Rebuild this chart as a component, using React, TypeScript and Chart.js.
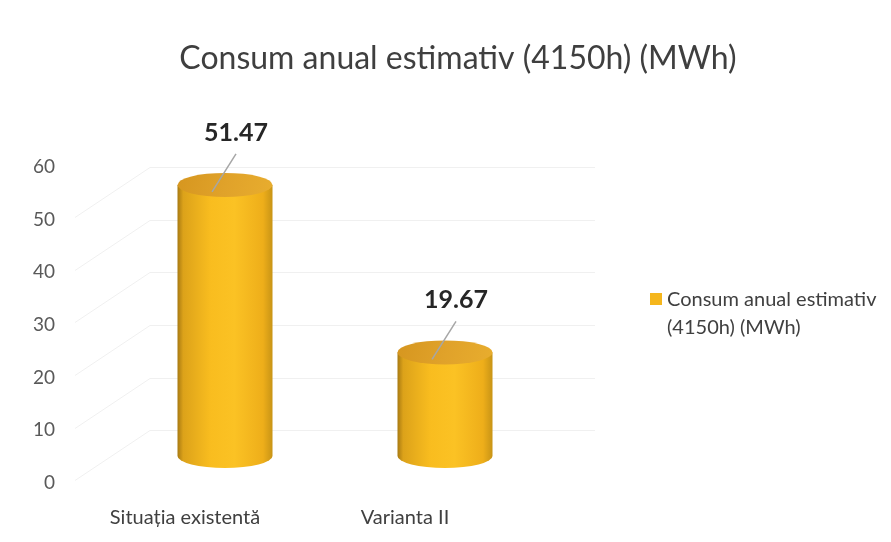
import React, { useEffect, useRef } from "react";
import { Chart, registerables } from "chart.js";
Chart.register(...registerables);

const chartTitle = "Consum anual estimativ (4150h) (MWh)";
const categories = ["Situația existentă", "Varianta II"];
const seriesName = "Consum anual estimativ (4150h) (MWh)";
const legendLines = ["Consum anual estimativ", "(4150h) (MWh)"];
const values = [51.47, 19.67];
const valueLabels = ["51.47", "19.67"];
const yMin = 0;
const yMax = 60;
const yStep = 10;

const FONT = "Lato, 'Open Sans', sans-serif";
const DX = 40;
const DY = -27;
const RY = 12;

const gridPlugin = {
  id: "grid3d",
  beforeDatasetsDraw(chart: any) {
    const ctx = chart.ctx;
    const y = chart.scales.y;
    ctx.save();
    ctx.strokeStyle = "#f0f0f0";
    ctx.lineWidth = 1;
    for (let v = yMin + yStep; v <= yMax; v += yStep) {
      const py = Math.round(y.getPixelForValue(v)) + 0.5;
      ctx.beginPath();
      ctx.moveTo(75, py + 50);
      ctx.lineTo(150, py);
      ctx.lineTo(595, py);
      ctx.stroke();
    }
    ctx.restore();
  },
};

const cylinderPlugin = {
  id: "cylinders",
  afterDatasetsDraw(chart: any) {
    const ctx = chart.ctx;
    const meta = chart.getDatasetMeta(0);
    ctx.save();
    meta.data.forEach((el: any, i: number) => {
      const cx = el.x + DX;
      const top = el.y + DY;
      const bot = el.base + DY;
      const rx = el.width / 2;
      const g = ctx.createLinearGradient(cx - rx, 0, cx + rx, 0);
      g.addColorStop(0, "#a87a12");
      g.addColorStop(0.06, "#dca21a");
      g.addColorStop(0.35, "#f9bd1f");
      g.addColorStop(0.6, "#fbc224");
      g.addColorStop(0.9, "#eeae1a");
      g.addColorStop(1, "#c89416");
      ctx.beginPath();
      ctx.moveTo(cx - rx, top);
      ctx.lineTo(cx - rx, bot);
      ctx.ellipse(cx, bot, rx, RY, 0, Math.PI, 0, true);
      ctx.lineTo(cx + rx, top);
      ctx.closePath();
      ctx.fillStyle = g;
      ctx.fill();
      const gt = ctx.createLinearGradient(cx - rx, top - RY, cx + rx, top + RY);
      gt.addColorStop(0, "#d6961f");
      gt.addColorStop(0.5, "#e0a22a");
      gt.addColorStop(1, "#e8ad2e");
      ctx.beginPath();
      ctx.ellipse(cx, top, rx, RY, 0, 0, Math.PI * 2);
      ctx.fillStyle = gt;
      ctx.fill();
      // leader line
      ctx.strokeStyle = "#a6a6a6";
      ctx.lineWidth = 1.5;
      ctx.beginPath();
      ctx.moveTo(cx + 11, top - 31);
      ctx.lineTo(cx - 13, top + 7);
      ctx.stroke();
      // value label
      ctx.fillStyle = "#262626";
      ctx.font = `bold 25px ${FONT}`;
      ctx.textAlign = "center";
      ctx.textBaseline = "middle";
      ctx.fillText(valueLabels[i], cx + 11, top - 52);
    });
    ctx.restore();
  },
  afterDraw(chart: any) {
    const ctx = chart.ctx;
    ctx.save();
    ctx.fillStyle = "#3f3f3f";
    ctx.font = `32px ${FONT}`;
    ctx.textAlign = "center";
    ctx.textBaseline = "middle";
    ctx.fillText(chartTitle, 458, 59);
    ctx.fillStyle = "#f5b61c";
    ctx.fillRect(650, 293, 12, 12);
    ctx.fillStyle = "#404040";
    ctx.font = `20px ${FONT}`;
    ctx.textAlign = "left";
    ctx.fillText(legendLines[0], 667, 300);
    ctx.fillText(legendLines[1], 667, 328);
    ctx.restore();
  },
};

export default function App() {
  const ref = useRef<HTMLCanvasElement | null>(null);
  useEffect(() => {
    if (!ref.current) return;
    const chart = new Chart(ref.current, {
      type: "bar",
      data: {
        labels: categories,
        datasets: [
          {
            label: seriesName,
            data: values,
            backgroundColor: "rgba(0,0,0,0)",
            borderWidth: 0,
            categoryPercentage: 1,
            barPercentage: 95 / 220,
          },
        ],
      },
      options: {
        animation: false,
        responsive: false,
        devicePixelRatio: 1,
        layout: { padding: { left: 0, right: 376, top: 167, bottom: 0 } },
        plugins: {
          legend: { display: false },
          title: { display: false },
          tooltip: { enabled: false },
        },
        scales: {
          x: {
            grid: { display: false, drawTicks: false },
            border: { display: false },
            ticks: {
              font: { family: FONT, size: 20 },
              color: "#404040",
              padding: 23,
              maxRotation: 0,
            },
            afterFit: (s: any) => {
              s.height = 59;
            },
          },
          y: {
            min: yMin,
            max: yMax,
            grid: { display: false, drawTicks: false },
            border: { display: false },
            ticks: {
              stepSize: yStep,
              font: { family: FONT, size: 19 },
              color: "#595959",
              padding: 20,
            },
            afterFit: (s: any) => {
              s.width = 75;
            },
          },
        },
      },
      plugins: [gridPlugin, cylinderPlugin],
    });
    return () => chart.destroy();
  }, []);
  return (
    <div style={{ position: "absolute", left: 0, top: 0, width: 891, height: 542, background: "#fff" }}>
      <canvas ref={ref} width={891} height={542} style={{ width: 891, height: 542, display: "block" }} />
    </div>
  );
}
